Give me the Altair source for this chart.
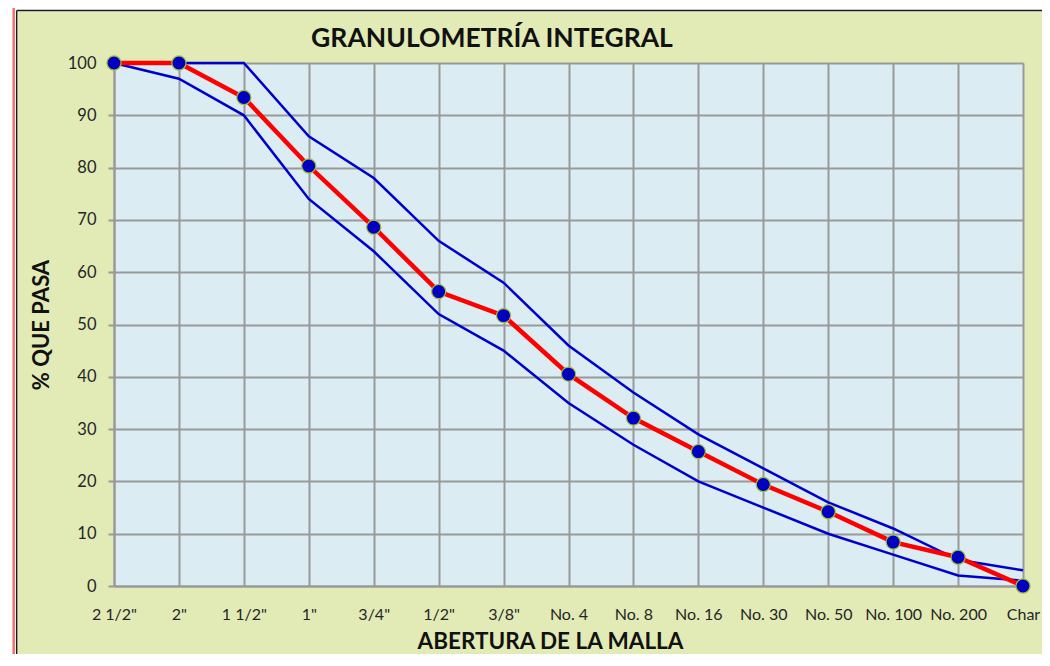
import altair as alt
import pandas as pd

categorias = ['2 1/2"', '2"', '1 1/2"', '1"', '3/4"', '1/2"', '3/8"', 'No. 4', 'No. 8',
              'No. 16', 'No. 30', 'No. 50', 'No. 100', 'No. 200', 'Char']
muestra = [100, 100, 93.4, 80.3, 68.6, 56.3, 51.7, 40.5, 32.1, 25.7, 19.4, 14.2, 8.4, 5.5, 0]
lim_sup = [100, 100, 100, 86, 78, 66, 58, 46, 37, 29, 22.5, 16, 11, 5, 3]
lim_inf = [100, 97, 90, 74, 64, 52, 45, 35, 27, 20, 15, 10, 6, 2, 1]
y_ticks = [0, 10, 20, 30, 40, 50, 60, 70, 80, 90, 100]
titulo = "GRANULOMETRÍA INTEGRAL"

W, H = 909, 523
PAD = {"left": 106, "top": 55, "right": 19, "bottom": 68}
FONT = "Lato"
GREEN = "#e2ebb6"
PLOT_BG = "#dbecf3"
GRID = "#999999"

rows = []
for s, vals in (("sup", lim_sup), ("inf", lim_inf), ("muestra", muestra)):
    for i, (c, v) in enumerate(zip(categorias, vals)):
        rows.append({"cat": c, "serie": s, "valor": v, "orden": i})
df = pd.DataFrame(rows)

x_enc = alt.X(
    "cat:N", sort=categorias,
    scale=alt.Scale(domain=categorias, padding=0),
    axis=alt.Axis(
        title="ABERTURA DE LA MALLA", labelAngle=0, grid=True, gridColor=GRID, gridWidth=2,
        domainColor=GRID, domainWidth=2, ticks=False, labelPadding=20,
        labelFont=FONT, labelFontSize=16, labelColor="#262626",
        titleFont=FONT, titleFontSize=22.5, titleFontWeight="bold", titleColor="#111111",
        titleX=436, titleY=55, titleBaseline="middle",
    ),
)
y_enc = alt.Y(
    "valor:Q",
    scale=alt.Scale(domain=[0, 100], nice=False, zero=True),
    axis=alt.Axis(
        title="% QUE PASA", values=y_ticks, grid=True, gridColor=GRID, gridWidth=2,
        domainColor=GRID, domainWidth=2, tickColor=GRID, tickWidth=2, tickSize=6,
        labelPadding=12, labelFont=FONT, labelFontSize=16.5, labelColor="#262626",
        titleFont=FONT, titleFontSize=22, titleFontWeight="bold", titleColor="#111111",
        titleX=-73, titleY=H / 2, titleBaseline="middle",
    ),
)

base = alt.Chart(df)

lineas = base.transform_filter(alt.datum.serie != "muestra").mark_line(
    color="#0000cc", strokeWidth=2.5
).encode(x=x_enc, y=y_enc, detail="serie:N", order="orden:Q")

roja = base.transform_filter(alt.datum.serie == "muestra").mark_line(
    color="#ff0000", strokeWidth=4.5
).encode(x=x_enc, y=y_enc, order="orden:Q")

puntos = base.transform_filter(alt.datum.serie == "muestra").mark_point(
    filled=True, shape="circle", size=200, fill="#0000c0", stroke="#9fc03a",
    strokeWidth=1.2, opacity=1
).encode(x=x_enc, y=y_enc)

# decorative frame (white margin, red and black borders) and chart title
bottom = H + PAD["bottom"]
right = W + PAD["right"]
deco_df = pd.DataFrame({"d": [0]})
deco = alt.Chart(deco_df)
white_left = deco.mark_rect(color="white").encode(
    x=alt.value(-106), x2=alt.value(-96.5), y=alt.value(-55), y2=alt.value(bottom))
white_top = deco.mark_rect(color="white").encode(
    x=alt.value(-106), x2=alt.value(right), y=alt.value(-55), y2=alt.value(-51.5))
red_left = deco.mark_rule(color="#ff6b6b", strokeWidth=2.5).encode(
    x=alt.value(-100.3), y=alt.value(-55), y2=alt.value(bottom))
black_left = deco.mark_rule(color="#1a1a1a", strokeWidth=1.4).encode(
    x=alt.value(-97.3), y=alt.value(-52.5), y2=alt.value(bottom))
black_top = deco.mark_rule(color="#1a1a1a", strokeWidth=1.4).encode(
    x=alt.value(-97.3), x2=alt.value(right), y=alt.value(-52.5))
title_mark = deco.mark_text(
    text=titulo, font=FONT, fontSize=26.5, fontWeight="bold", color="#111111",
    align="center", baseline="alphabetic"
).encode(x=alt.value(378), y=alt.value(-16))

chart = alt.layer(
    lineas, roja, puntos, white_left, white_top, red_left, black_left, black_top, title_mark
).properties(
    width=W, height=H,
    autosize=alt.AutoSizeParams(type="none"),
    padding=PAD,
    background=GREEN,
).configure_view(fill=PLOT_BG, stroke=None)

chart.save("out.html", embed_options={"renderer": "svg", "actions": False})
